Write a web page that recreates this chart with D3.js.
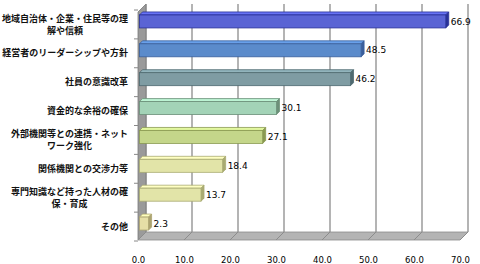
<!DOCTYPE html>
<html>
<head>
<meta charset="utf-8">
<script src="https://cdn.jsdelivr.net/npm/d3@7"></script>
<style>
body { margin: 0; background: #fff; }
svg { display: block; }
text { font-family: "Noto Sans CJK JP", sans-serif; }
</style>
</head>
<body>
<svg id="chart" width="480" height="264"></svg>
<script>
// données
var categories = [
	["地域自治体・企業・住民等の理", "解や信頼"],
	["経営者のリーダーシップや方針"],
	["社員の意識改革"],
	["資金的な余裕の確保"],
	["外部機関等との連携・ネット", "ワーク強化"],
	["関係機関との交渉力等"],
	["専門知識など持った人材の確", "保・育成"],
	["その他"]
];
var values = [66.9, 48.5, 46.2, 30.1, 27.1, 18.4, 13.7, 2.3];
var ticks = [0, 10, 20, 30, 40, 50, 60, 70];
var faceColors = ["#5a64d4", "#5b8bcb", "#7f9ca3", "#a3d3b7", "#c4d68a", "#e2e4a8", "#e2e4a8", "#e6dfa6"];
var edgeColors = ["#2a3298", "#3a5f9c", "#4e6a70", "#6c9079", "#8b9b52", "#a9ab72", "#a9ab72", "#aca470"];

var svg = d3.select("#chart");
var ids = d3.range(categories.length);

// échelles : plan avant, le plan arrière est décalé de (dx, dy)
var dx = 8, dy = -8;
var xScale = d3.scaleLinear().domain([0, 70]).range([138, 460]);
var yScale = d3.scaleBand().domain(ids).range([10, 241]);
var top0 = 12, bottom0 = 240;

// mur gauche
svg.append("polygon")
	.attr("points", [[xScale(0), top0], [xScale(0) + dx, top0 + dy], [xScale(0) + dx, bottom0 + dy], [xScale(0), bottom0]].join(" "))
	.style("fill", "#9a9a9a").style("stroke", "#7a7a7a").style("stroke-width", 0.8);

// sol
svg.append("polygon")
	.attr("points", [[xScale(0), bottom0], [xScale(0) + dx, bottom0 + dy], [xScale(70) + dx, bottom0 + dy], [xScale(70), bottom0]].join(" "))
	.style("fill", "#b4b4b4").style("stroke", "#8a8a8a").style("stroke-width", 0.8);

// quadrillage sur le mur du fond et le sol
var grid = svg.append("g");
grid.selectAll("line.v")
	.data(ticks)
	.enter().append("line")
	.attr("x1", d => xScale(d) + dx).attr("x2", d => xScale(d) + dx)
	.attr("y1", top0 + dy).attr("y2", bottom0 + dy)
	.style("stroke", "#8c8c8c").style("stroke-width", 1.3);
grid.selectAll("line.f")
	.data(ticks)
	.enter().append("line")
	.attr("x1", d => xScale(d) + dx).attr("x2", d => xScale(d))
	.attr("y1", bottom0 + dy).attr("y2", bottom0)
	.style("stroke", "#8c8c8c").style("stroke-width", 1);

// graduations de l'axe vertical
svg.selectAll("line.tk")
	.data(d3.range(categories.length + 1))
	.enter().append("line")
	.attr("x1", xScale(0) - 4).attr("x2", xScale(0))
	.attr("y1", d => 10 + d * yScale.step()).attr("y2", d => 10 + d * yScale.step())
	.style("stroke", "#888").style("stroke-width", 1);

// barres 3D : face avant, dessus et côté
var bh = 13, bd = 3;
var bars = svg.selectAll("g.bar")
	.data(ids)
	.enter().append("g");

bars.append("polygon")
	.attr("points", function(i) {
		var x0 = xScale(0) + 1.5, x1 = xScale(values[i]), y = yScale(i) + yScale.bandwidth() / 2 - 3 - bh / 2;
		return [[x0, y], [x0 + bd, y - bd], [x1 + bd, y - bd], [x1, y]].join(" ");
	})
	.style("fill", (i) => d3.color(faceColors[i]).brighter(0.4))
	.style("stroke", (i) => edgeColors[i]).style("stroke-width", 0.8);

bars.append("polygon")
	.attr("points", function(i) {
		var x1 = xScale(values[i]), y = yScale(i) + yScale.bandwidth() / 2 - 3 - bh / 2;
		return [[x1, y], [x1 + bd, y - bd], [x1 + bd, y + bh - bd], [x1, y + bh]].join(" ");
	})
	.style("fill", (i) => edgeColors[i])
	.style("stroke", (i) => edgeColors[i]).style("stroke-width", 0.8);

bars.append("rect")
	.attr("x", xScale(0) + 1.5)
	.attr("y", i => yScale(i) + yScale.bandwidth() / 2 - 3 - bh / 2)
	.attr("width", i => xScale(values[i]) - xScale(0) - 1.5)
	.attr("height", bh)
	.style("fill", i => faceColors[i])
	.style("stroke", i => edgeColors[i]).style("stroke-width", 0.8);

// étiquettes des valeurs
bars.append("text")
	.attr("x", i => xScale(values[i]) + bd + 2)
	.attr("y", i => yScale(i) + yScale.bandwidth() / 2 - 3)
	.attr("dy", "0.35em")
	.style("font-size", "9px")
	.style("font-family", "'DejaVu Sans', sans-serif")
	.style("fill", "#000")
	.text(i => values[i].toFixed(1));

// libellés des catégories (centrés entre eux, bloc aligné à droite)
var labels = svg.selectAll("g.lab")
	.data(ids)
	.enter().append("g");
labels.each(function(i) {
	var g = d3.select(this);
	var lines = categories[i];
	var cy = yScale(i) + yScale.bandwidth() / 2;
	var lh = 12;
	var ts = lines.map(function(l, k) {
		return g.append("text")
			.attr("y", cy + (k - (lines.length - 1) / 2) * lh)
			.attr("dy", "0.35em")
			.style("font-size", "9px")
			.style("font-weight", "bold")
			.style("fill", "#111")
			.style("text-anchor", "middle")
			.text(l);
	});
	var w = d3.max(ts, t => t.node().getComputedTextLength());
	ts.forEach(t => t.attr("x", 128 - w / 2));
});

// axe horizontal
var xAxis = svg.append("g")
	.attr("transform", `translate(0, ${bottom0 + 17})`)
	.call(d3.axisBottom(xScale).tickValues(ticks).tickSize(0).tickFormat(d3.format(".1f")));
xAxis.select(".domain").remove();
xAxis.selectAll("text")
	.style("font-family", "'DejaVu Sans', sans-serif")
	.style("font-size", "8.5px")
	.style("fill", "#000")
	.attr("dy", "0.35em");
</script>
</body>
</html>
